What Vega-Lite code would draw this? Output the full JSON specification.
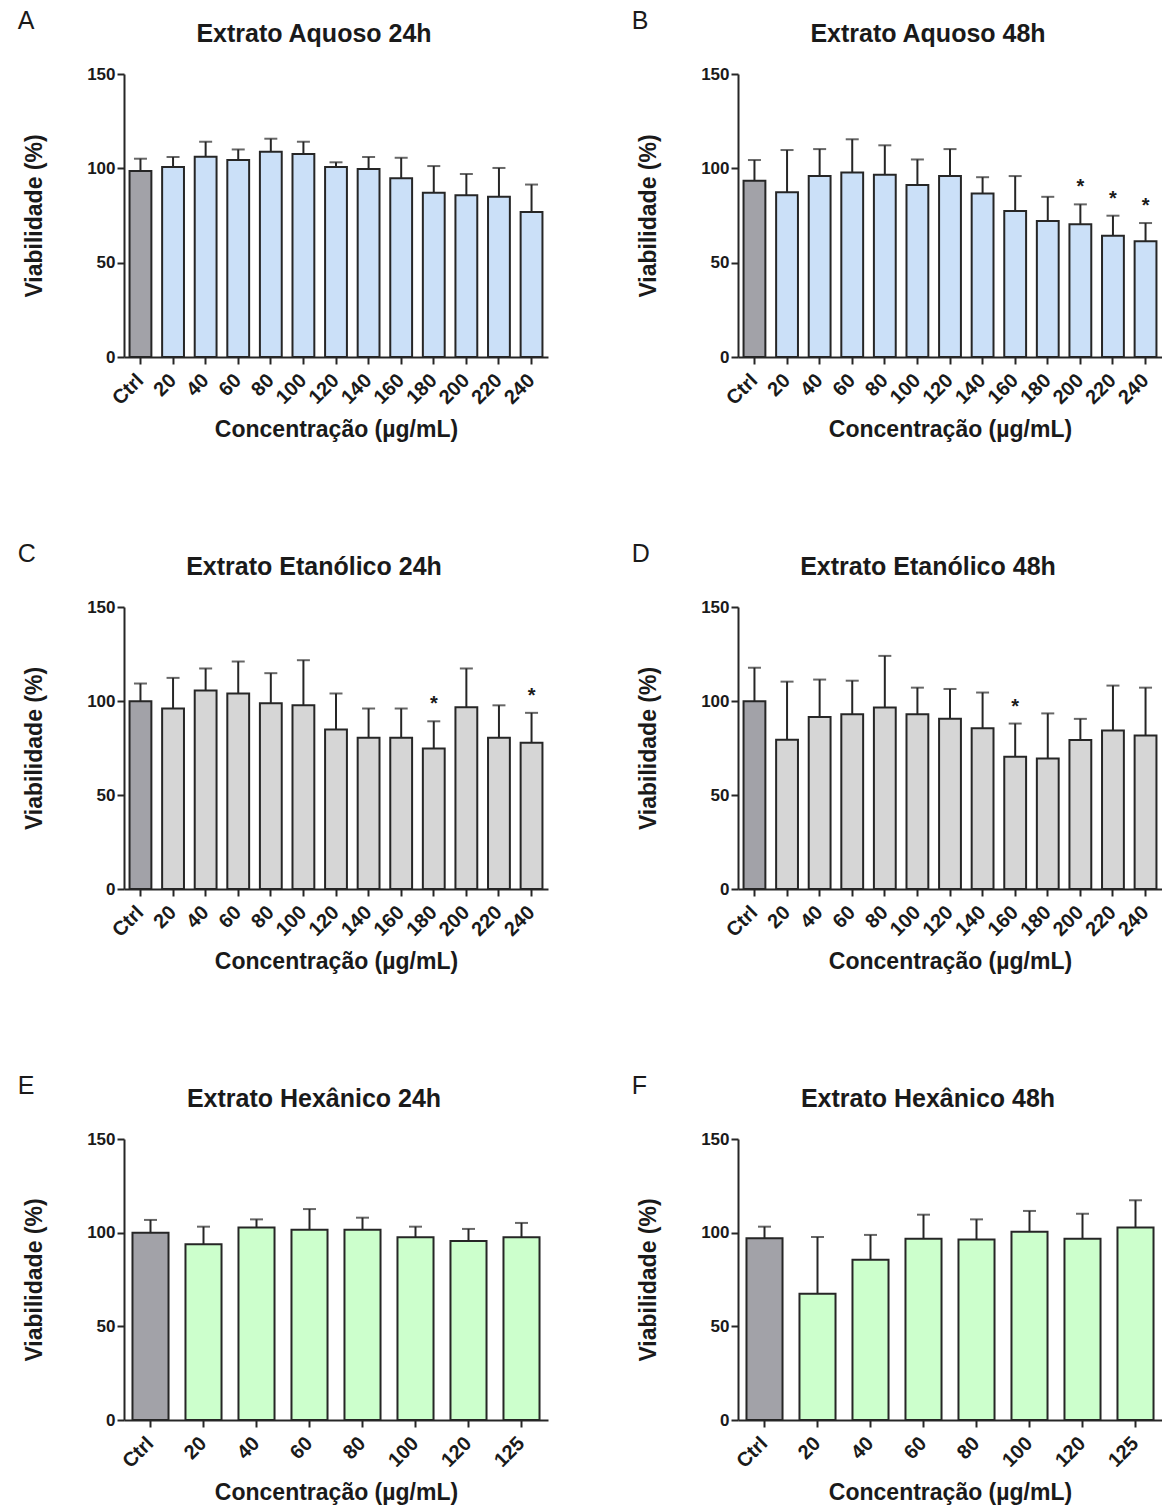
{
  "$schema": "https://vega.github.io/schema/vega-lite/v6.json",
  "padding": {"left": 17, "top": 9, "right": 0, "bottom": 0},
  "background": "white",
  "data": {"values": [
    {"p":"A","c":"Ctrl","g":"Controle","v":98.6,"e":105.1,"s":""},
    {"p":"A","c":"20","g":"Aquoso","v":100.7,"e":106.0,"s":""},
    {"p":"A","c":"40","g":"Aquoso","v":106.2,"e":114.1,"s":""},
    {"p":"A","c":"60","g":"Aquoso","v":104.4,"e":110.0,"s":""},
    {"p":"A","c":"80","g":"Aquoso","v":108.8,"e":115.7,"s":""},
    {"p":"A","c":"100","g":"Aquoso","v":107.6,"e":114.1,"s":""},
    {"p":"A","c":"120","g":"Aquoso","v":100.7,"e":103.2,"s":""},
    {"p":"A","c":"140","g":"Aquoso","v":99.6,"e":106.0,"s":""},
    {"p":"A","c":"160","g":"Aquoso","v":94.7,"e":105.6,"s":""},
    {"p":"A","c":"180","g":"Aquoso","v":87.0,"e":101.2,"s":""},
    {"p":"A","c":"200","g":"Aquoso","v":85.7,"e":97.0,"s":""},
    {"p":"A","c":"220","g":"Aquoso","v":84.9,"e":100.2,"s":""},
    {"p":"A","c":"240","g":"Aquoso","v":76.9,"e":91.4,"s":""},
    {"p":"B","c":"Ctrl","g":"Controle","v":93.4,"e":104.4,"s":""},
    {"p":"B","c":"20","g":"Aquoso","v":87.3,"e":109.7,"s":""},
    {"p":"B","c":"40","g":"Aquoso","v":95.9,"e":110.2,"s":""},
    {"p":"B","c":"60","g":"Aquoso","v":97.8,"e":115.4,"s":""},
    {"p":"B","c":"80","g":"Aquoso","v":96.6,"e":112.2,"s":""},
    {"p":"B","c":"100","g":"Aquoso","v":91.1,"e":104.7,"s":""},
    {"p":"B","c":"120","g":"Aquoso","v":95.9,"e":110.2,"s":""},
    {"p":"B","c":"140","g":"Aquoso","v":86.6,"e":95.3,"s":""},
    {"p":"B","c":"160","g":"Aquoso","v":77.4,"e":95.9,"s":""},
    {"p":"B","c":"180","g":"Aquoso","v":72.1,"e":84.9,"s":""},
    {"p":"B","c":"200","g":"Aquoso","v":70.3,"e":80.9,"s":"*"},
    {"p":"B","c":"220","g":"Aquoso","v":64.3,"e":74.9,"s":"*"},
    {"p":"B","c":"240","g":"Aquoso","v":61.4,"e":71.0,"s":"*"},
    {"p":"C","c":"Ctrl","g":"Controle","v":99.9,"e":109.3,"s":""},
    {"p":"C","c":"20","g":"Etanólico","v":96.0,"e":112.3,"s":""},
    {"p":"C","c":"40","g":"Etanólico","v":105.6,"e":117.3,"s":""},
    {"p":"C","c":"60","g":"Etanólico","v":104.0,"e":121.0,"s":""},
    {"p":"C","c":"80","g":"Etanólico","v":98.8,"e":114.8,"s":""},
    {"p":"C","c":"100","g":"Etanólico","v":97.7,"e":121.7,"s":""},
    {"p":"C","c":"120","g":"Etanólico","v":84.9,"e":104.0,"s":""},
    {"p":"C","c":"140","g":"Etanólico","v":80.5,"e":96.0,"s":""},
    {"p":"C","c":"160","g":"Etanólico","v":80.5,"e":96.0,"s":""},
    {"p":"C","c":"180","g":"Etanólico","v":74.8,"e":89.2,"s":"*"},
    {"p":"C","c":"200","g":"Etanólico","v":96.7,"e":117.3,"s":""},
    {"p":"C","c":"220","g":"Etanólico","v":80.5,"e":97.7,"s":""},
    {"p":"C","c":"240","g":"Etanólico","v":77.8,"e":93.7,"s":"*"},
    {"p":"D","c":"Ctrl","g":"Controle","v":99.9,"e":117.7,"s":""},
    {"p":"D","c":"20","g":"Etanólico","v":79.4,"e":110.3,"s":""},
    {"p":"D","c":"40","g":"Etanólico","v":91.5,"e":111.4,"s":""},
    {"p":"D","c":"60","g":"Etanólico","v":92.9,"e":110.8,"s":""},
    {"p":"D","c":"80","g":"Etanólico","v":96.6,"e":124.0,"s":""},
    {"p":"D","c":"100","g":"Etanólico","v":92.9,"e":107.1,"s":""},
    {"p":"D","c":"120","g":"Etanólico","v":90.5,"e":106.4,"s":""},
    {"p":"D","c":"140","g":"Etanólico","v":85.5,"e":104.5,"s":""},
    {"p":"D","c":"160","g":"Etanólico","v":70.3,"e":88.0,"s":"*"},
    {"p":"D","c":"180","g":"Etanólico","v":69.4,"e":93.4,"s":""},
    {"p":"D","c":"200","g":"Etanólico","v":79.2,"e":90.5,"s":""},
    {"p":"D","c":"220","g":"Etanólico","v":84.3,"e":108.2,"s":""},
    {"p":"D","c":"240","g":"Etanólico","v":81.7,"e":107.1,"s":""},
    {"p":"E","c":"Ctrl","g":"Controle","v":100.0,"e":106.8,"s":""},
    {"p":"E","c":"20","g":"Hexânico","v":93.8,"e":103.2,"s":""},
    {"p":"E","c":"40","g":"Hexânico","v":102.7,"e":107.1,"s":""},
    {"p":"E","c":"60","g":"Hexânico","v":101.6,"e":112.6,"s":""},
    {"p":"E","c":"80","g":"Hexânico","v":101.6,"e":108.0,"s":""},
    {"p":"E","c":"100","g":"Hexânico","v":97.5,"e":103.2,"s":""},
    {"p":"E","c":"120","g":"Hexânico","v":95.6,"e":102.0,"s":""},
    {"p":"E","c":"125","g":"Hexânico","v":97.5,"e":105.2,"s":""},
    {"p":"F","c":"Ctrl","g":"Controle","v":97.0,"e":103.2,"s":""},
    {"p":"F","c":"20","g":"Hexânico","v":67.4,"e":97.7,"s":""},
    {"p":"F","c":"40","g":"Hexânico","v":85.6,"e":98.8,"s":""},
    {"p":"F","c":"60","g":"Hexânico","v":96.8,"e":109.6,"s":""},
    {"p":"F","c":"80","g":"Hexânico","v":96.3,"e":107.1,"s":""},
    {"p":"F","c":"100","g":"Hexânico","v":100.5,"e":111.6,"s":""},
    {"p":"F","c":"120","g":"Hexânico","v":96.8,"e":110.1,"s":""},
    {"p":"F","c":"125","g":"Hexânico","v":102.7,"e":117.3,"s":""}
  ]},
  "config": {
    "view": {"stroke": null},
    "font": "Liberation Sans",
    "axis": {
      "grid": false,
      "domainColor": "#262626", "domainWidth": 2,
      "tickColor": "#262626", "tickWidth": 2, "tickSize": 7,
      "labelFont": "Liberation Sans", "labelFontWeight": "bold", "labelFontSize": 17, "labelColor": "#1a1a1a",
      "titleFont": "Liberation Sans", "titleFontWeight": "bold", "titleFontSize": 23, "titleColor": "#1a1a1a"
    },
    "axisY": {"titlePadding": 40, "labelPadding": 2},
    "axisX": {"labelAngle": -45, "labelAlign": "right", "labelBaseline": "middle", "labelPadding": 13, "labelFontSize": 20, "titlePadding": 10},
    "title": {"font": "Liberation Sans", "fontSize": 25, "fontWeight": "bold", "color": "#1a1a1a"}
  },
  "resolve": {"scale": {"x": "independent", "y": "independent"}},
  "spacing": 100,
  "vconcat": [
    {"resolve": {"scale": {"x": "independent", "y": "independent"}}, "spacing": 83, "hconcat": [
      {"title": {"text": "A", "anchor": "start", "frame": "bounds", "fontWeight": "normal", "fontSize": 25, "offset": -12, "dx": -6},
       "resolve": {"scale": {"x": "independent", "y": "independent"}},
       "vconcat": [{
        "title": {"text": "Extrato Aquoso 24h", "anchor": "middle", "frame": "group", "dx": -22, "offset": 18},
        "width": 424, "height": 283,
        "transform": [{"filter": "datum.p == 'A'"}],
        "encoding": {
          "x": {"field": "c", "type": "nominal", "sort": null, "scale": {"paddingInner": 0.33, "paddingOuter": 0.17}, "axis": {"title": "Concentração (µg/mL)"}}
        },
        "layer": [
          {"mark": {"type": "bar", "stroke": "#262626", "strokeWidth": 2},
           "encoding": {"y": {"field": "v", "type": "quantitative", "scale": {"domain": [0, 150], "nice": false}, "axis": {"values": [0, 50, 100, 150], "title": "Viabilidade (%)"}},
             "color": {"field": "g", "type": "nominal", "scale": {"domain": ["Controle", "Aquoso", "Etanólico", "Hexânico"], "range": ["#a2a2a8", "#cbe0f8", "#d6d6d6", "#ccffcc"]}, "legend": null}}},
          {"mark": {"type": "rule", "color": "#262626", "strokeWidth": 2},
           "encoding": {"y": {"field": "v", "type": "quantitative", "title": "Viabilidade (%)"}, "y2": {"field": "e"}}},
          {"mark": {"type": "tick", "color": "#262626", "thickness": 2, "size": 13},
           "encoding": {"y": {"field": "e", "type": "quantitative", "title": "Viabilidade (%)"}}},
          {"transform": [{"filter": "datum.s == '*'"}],
           "mark": {"type": "text", "fontSize": 20, "fontWeight": "bold", "dy": -11, "baseline": "alphabetic", "color": "#1a1a1a"},
           "encoding": {"y": {"field": "e", "type": "quantitative", "title": "Viabilidade (%)"}, "text": {"field": "s"}}}
        ]
      }]},
      {"title": {"text": "B", "anchor": "start", "frame": "bounds", "fontWeight": "normal", "fontSize": 25, "offset": -12, "dx": -6},
       "resolve": {"scale": {"x": "independent", "y": "independent"}},
       "vconcat": [{
        "title": {"text": "Extrato Aquoso 48h", "anchor": "middle", "frame": "group", "dx": -22, "offset": 18},
        "width": 424, "height": 283,
        "transform": [{"filter": "datum.p == 'B'"}],
        "encoding": {
          "x": {"field": "c", "type": "nominal", "sort": null, "scale": {"paddingInner": 0.33, "paddingOuter": 0.17}, "axis": {"title": "Concentração (µg/mL)"}}
        },
        "layer": [
          {"mark": {"type": "bar", "stroke": "#262626", "strokeWidth": 2},
           "encoding": {"y": {"field": "v", "type": "quantitative", "scale": {"domain": [0, 150], "nice": false}, "axis": {"values": [0, 50, 100, 150], "title": "Viabilidade (%)"}},
             "color": {"field": "g", "type": "nominal", "scale": {"domain": ["Controle", "Aquoso", "Etanólico", "Hexânico"], "range": ["#a2a2a8", "#cbe0f8", "#d6d6d6", "#ccffcc"]}, "legend": null}}},
          {"mark": {"type": "rule", "color": "#262626", "strokeWidth": 2},
           "encoding": {"y": {"field": "v", "type": "quantitative", "title": "Viabilidade (%)"}, "y2": {"field": "e"}}},
          {"mark": {"type": "tick", "color": "#262626", "thickness": 2, "size": 13},
           "encoding": {"y": {"field": "e", "type": "quantitative", "title": "Viabilidade (%)"}}},
          {"transform": [{"filter": "datum.s == '*'"}],
           "mark": {"type": "text", "fontSize": 20, "fontWeight": "bold", "dy": -11, "baseline": "alphabetic", "color": "#1a1a1a"},
           "encoding": {"y": {"field": "e", "type": "quantitative", "title": "Viabilidade (%)"}, "text": {"field": "s"}}}
        ]
      }]}
    ]},
    {"resolve": {"scale": {"x": "independent", "y": "independent"}}, "spacing": 83, "hconcat": [
      {"title": {"text": "C", "anchor": "start", "frame": "bounds", "fontWeight": "normal", "fontSize": 25, "offset": -12, "dx": -6},
       "resolve": {"scale": {"x": "independent", "y": "independent"}},
       "vconcat": [{
        "title": {"text": "Extrato Etanólico 24h", "anchor": "middle", "frame": "group", "dx": -22, "offset": 18},
        "width": 424, "height": 282,
        "transform": [{"filter": "datum.p == 'C'"}],
        "encoding": {
          "x": {"field": "c", "type": "nominal", "sort": null, "scale": {"paddingInner": 0.33, "paddingOuter": 0.17}, "axis": {"title": "Concentração (µg/mL)"}}
        },
        "layer": [
          {"mark": {"type": "bar", "stroke": "#262626", "strokeWidth": 2},
           "encoding": {"y": {"field": "v", "type": "quantitative", "scale": {"domain": [0, 150], "nice": false}, "axis": {"values": [0, 50, 100, 150], "title": "Viabilidade (%)"}},
             "color": {"field": "g", "type": "nominal", "scale": {"domain": ["Controle", "Aquoso", "Etanólico", "Hexânico"], "range": ["#a2a2a8", "#cbe0f8", "#d6d6d6", "#ccffcc"]}, "legend": null}}},
          {"mark": {"type": "rule", "color": "#262626", "strokeWidth": 2},
           "encoding": {"y": {"field": "v", "type": "quantitative", "title": "Viabilidade (%)"}, "y2": {"field": "e"}}},
          {"mark": {"type": "tick", "color": "#262626", "thickness": 2, "size": 13},
           "encoding": {"y": {"field": "e", "type": "quantitative", "title": "Viabilidade (%)"}}},
          {"transform": [{"filter": "datum.s == '*'"}],
           "mark": {"type": "text", "fontSize": 20, "fontWeight": "bold", "dy": -11, "baseline": "alphabetic", "color": "#1a1a1a"},
           "encoding": {"y": {"field": "e", "type": "quantitative", "title": "Viabilidade (%)"}, "text": {"field": "s"}}}
        ]
      }]},
      {"title": {"text": "D", "anchor": "start", "frame": "bounds", "fontWeight": "normal", "fontSize": 25, "offset": -12, "dx": -6},
       "resolve": {"scale": {"x": "independent", "y": "independent"}},
       "vconcat": [{
        "title": {"text": "Extrato Etanólico 48h", "anchor": "middle", "frame": "group", "dx": -22, "offset": 18},
        "width": 424, "height": 282,
        "transform": [{"filter": "datum.p == 'D'"}],
        "encoding": {
          "x": {"field": "c", "type": "nominal", "sort": null, "scale": {"paddingInner": 0.33, "paddingOuter": 0.17}, "axis": {"title": "Concentração (µg/mL)"}}
        },
        "layer": [
          {"mark": {"type": "bar", "stroke": "#262626", "strokeWidth": 2},
           "encoding": {"y": {"field": "v", "type": "quantitative", "scale": {"domain": [0, 150], "nice": false}, "axis": {"values": [0, 50, 100, 150], "title": "Viabilidade (%)"}},
             "color": {"field": "g", "type": "nominal", "scale": {"domain": ["Controle", "Aquoso", "Etanólico", "Hexânico"], "range": ["#a2a2a8", "#cbe0f8", "#d6d6d6", "#ccffcc"]}, "legend": null}}},
          {"mark": {"type": "rule", "color": "#262626", "strokeWidth": 2},
           "encoding": {"y": {"field": "v", "type": "quantitative", "title": "Viabilidade (%)"}, "y2": {"field": "e"}}},
          {"mark": {"type": "tick", "color": "#262626", "thickness": 2, "size": 13},
           "encoding": {"y": {"field": "e", "type": "quantitative", "title": "Viabilidade (%)"}}},
          {"transform": [{"filter": "datum.s == '*'"}],
           "mark": {"type": "text", "fontSize": 20, "fontWeight": "bold", "dy": -11, "baseline": "alphabetic", "color": "#1a1a1a"},
           "encoding": {"y": {"field": "e", "type": "quantitative", "title": "Viabilidade (%)"}, "text": {"field": "s"}}}
        ]
      }]}
    ]},
    {"resolve": {"scale": {"x": "independent", "y": "independent"}}, "spacing": 83, "hconcat": [
      {"title": {"text": "E", "anchor": "start", "frame": "bounds", "fontWeight": "normal", "fontSize": 25, "offset": -12, "dx": -6},
       "resolve": {"scale": {"x": "independent", "y": "independent"}},
       "vconcat": [{
        "title": {"text": "Extrato Hexânico 24h", "anchor": "middle", "frame": "group", "dx": -22, "offset": 18},
        "width": 424, "height": 281,
        "transform": [{"filter": "datum.p == 'E'"}],
        "encoding": {
          "x": {"field": "c", "type": "nominal", "sort": null, "scale": {"paddingInner": 0.32, "paddingOuter": 0.16}, "axis": {"title": "Concentração (µg/mL)"}}
        },
        "layer": [
          {"mark": {"type": "bar", "stroke": "#262626", "strokeWidth": 2},
           "encoding": {"y": {"field": "v", "type": "quantitative", "scale": {"domain": [0, 150], "nice": false}, "axis": {"values": [0, 50, 100, 150], "title": "Viabilidade (%)"}},
             "color": {"field": "g", "type": "nominal", "scale": {"domain": ["Controle", "Aquoso", "Etanólico", "Hexânico"], "range": ["#a2a2a8", "#cbe0f8", "#d6d6d6", "#ccffcc"]}, "legend": null}}},
          {"mark": {"type": "rule", "color": "#262626", "strokeWidth": 2},
           "encoding": {"y": {"field": "v", "type": "quantitative", "title": "Viabilidade (%)"}, "y2": {"field": "e"}}},
          {"mark": {"type": "tick", "color": "#262626", "thickness": 2, "size": 13},
           "encoding": {"y": {"field": "e", "type": "quantitative", "title": "Viabilidade (%)"}}}
        ]
      }]},
      {"title": {"text": "F", "anchor": "start", "frame": "bounds", "fontWeight": "normal", "fontSize": 25, "offset": -12, "dx": -6},
       "resolve": {"scale": {"x": "independent", "y": "independent"}},
       "vconcat": [{
        "title": {"text": "Extrato Hexânico 48h", "anchor": "middle", "frame": "group", "dx": -22, "offset": 18},
        "width": 424, "height": 281,
        "transform": [{"filter": "datum.p == 'F'"}],
        "encoding": {
          "x": {"field": "c", "type": "nominal", "sort": null, "scale": {"paddingInner": 0.32, "paddingOuter": 0.16}, "axis": {"title": "Concentração (µg/mL)"}}
        },
        "layer": [
          {"mark": {"type": "bar", "stroke": "#262626", "strokeWidth": 2},
           "encoding": {"y": {"field": "v", "type": "quantitative", "scale": {"domain": [0, 150], "nice": false}, "axis": {"values": [0, 50, 100, 150], "title": "Viabilidade (%)"}},
             "color": {"field": "g", "type": "nominal", "scale": {"domain": ["Controle", "Aquoso", "Etanólico", "Hexânico"], "range": ["#a2a2a8", "#cbe0f8", "#d6d6d6", "#ccffcc"]}, "legend": null}}},
          {"mark": {"type": "rule", "color": "#262626", "strokeWidth": 2},
           "encoding": {"y": {"field": "v", "type": "quantitative", "title": "Viabilidade (%)"}, "y2": {"field": "e"}}},
          {"mark": {"type": "tick", "color": "#262626", "thickness": 2, "size": 13},
           "encoding": {"y": {"field": "e", "type": "quantitative", "title": "Viabilidade (%)"}}}
        ]
      }]}
    ]}
  ]
}
